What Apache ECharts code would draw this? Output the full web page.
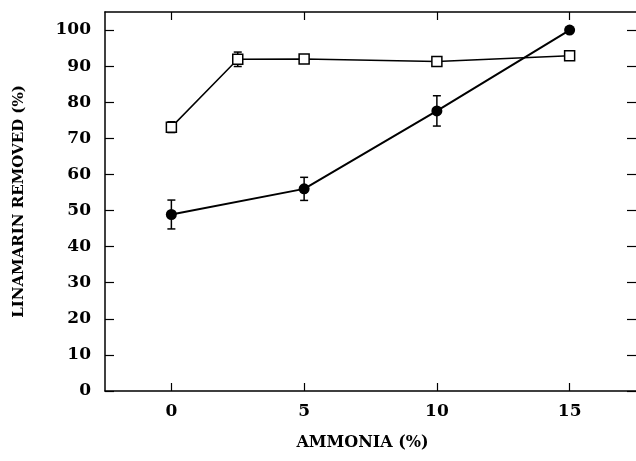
<!DOCTYPE html>
<html>
<head>
<meta charset="utf-8">
<script src="https://cdn.jsdelivr.net/npm/echarts@6/dist/echarts.min.js"></script>
<style>
html, body { margin: 0; padding: 0; background: #fff; }
#main { width: 636px; height: 461px; }
</style>
</head>
<body>
<div id="main"></div>
<script>
// ammonia (%) values
var xSquare = [0, 2.5, 5, 10, 15];
var ySquare = [73.1, 91.9, 92.0, 91.3, 92.9];
var errSquare = [1.5, 2.0, 0, 0, 0];

var xCircle = [0, 5, 10, 15];
var yCircle = [48.9, 56.0, 77.6, 100];
var errCircle = [4.0, 3.2, 4.2, 0];

var xTicks = [0, 5, 10, 15];
var yTicks = [0, 10, 20, 30, 40, 50, 60, 70, 80, 90, 100];

var fontFam = 'DejaVu Serif';

function pairs(xs, ys) {
	var out = [];
	for (var i = 0; i < xs.length; i++) {
		out.push([xs[i], ys[i]]);
	}
	return out;
}
function errData(xs, ys, es) {
	var out = [];
	for (var i = 0; i < xs.length; i++) {
		if (es[i] > 0) out.push([xs[i], ys[i] - es[i], ys[i] + es[i]]);
	}
	return out;
}
function renderErr(params, api) {
	var x = api.value(0);
	var lo = api.coord([x, api.value(1)]);
	var hi = api.coord([x, api.value(2)]);
	var w = 4;
	var st = { stroke: '#000', lineWidth: 1.5 };
	return {
		type: 'group',
		children: [
			{ type: 'line', shape: { x1: lo[0], y1: lo[1], x2: hi[0], y2: hi[1] }, style: st },
			{ type: 'line', shape: { x1: lo[0] - w, y1: lo[1], x2: lo[0] + w, y2: lo[1] }, style: st },
			{ type: 'line', shape: { x1: hi[0] - w, y1: hi[1], x2: hi[0] + w, y2: hi[1] }, style: st }
		]
	};
}

var chart = echarts.init(document.getElementById('main'));
var option = {
	animation: false,
	grid: { left: 105, top: 12, right: 0, bottom: 70 },
	xAxis: [{
		type: 'value',
		min: -2.5,
		max: 17.5,
		position: 'bottom',
		name: 'AMMONIA (%)',
		nameLocation: 'middle',
		nameGap: 44,
		nameTextStyle: { fontFamily: fontFam, fontWeight: 'bold', fontSize: 16, color: '#000', padding: [0, 16, 0, 0] },
		axisLine: { onZero: false, lineStyle: { color: '#000', width: 1.5 } },
		axisTick: { inside: true, length: 8, customValues: xTicks, lineStyle: { color: '#000', width: 1.2 } },
		axisLabel: { customValues: xTicks, margin: 12, fontFamily: fontFam, fontWeight: 'bold', fontSize: 17, color: '#000' },
		splitLine: { show: false }
	}, {
		type: 'value',
		min: -2.5,
		max: 17.5,
		position: 'top',
		axisLine: { onZero: false, lineStyle: { color: '#000', width: 1.5 } },
		axisTick: { inside: true, length: 8, customValues: xTicks, lineStyle: { color: '#000', width: 1.2 } },
		axisLabel: { show: false },
		splitLine: { show: false }
	}],
	yAxis: [{
		type: 'value',
		min: 0,
		max: 105,
		position: 'left',
		name: 'LINAMARIN REMOVED (%)',
		nameLocation: 'middle',
		nameGap: 78,
		nameTextStyle: { fontFamily: fontFam, fontWeight: 'bold', fontSize: 15, color: '#000' },
		axisLine: { show: true, onZero: false, lineStyle: { color: '#000', width: 1.5 } },
		axisTick: { show: true, inside: true, length: 9, customValues: yTicks, lineStyle: { color: '#000', width: 1.2 } },
		axisLabel: { customValues: yTicks, margin: 14, fontFamily: fontFam, fontWeight: 'bold', fontSize: 17, color: '#000' },
		splitLine: { show: false }
	}, {
		type: 'value',
		min: 0,
		max: 105,
		position: 'right',
		axisLine: { show: false, onZero: false },
		axisTick: { show: true, inside: true, length: 9, customValues: yTicks, lineStyle: { color: '#000', width: 1.2 } },
		axisLabel: { show: false },
		splitLine: { show: false }
	}],
	series: [{
		type: 'line',
		data: pairs(xSquare, ySquare),
		symbol: 'rect',
		symbolSize: 10,
		lineStyle: { color: '#000', width: 1.5 },
		itemStyle: { color: '#fff', borderColor: '#000', borderWidth: 1.5 },
		z: 3
	}, {
		type: 'line',
		data: pairs(xCircle, yCircle),
		symbol: 'circle',
		symbolSize: 11,
		lineStyle: { color: '#000', width: 2 },
		itemStyle: { color: '#000' },
		z: 3
	}, {
		type: 'custom',
		data: errData(xSquare, ySquare, errSquare),
		renderItem: renderErr,
		z: 2
	}, {
		type: 'custom',
		data: errData(xCircle, yCircle, errCircle),
		renderItem: renderErr,
		z: 2
	}]
};
chart.setOption(option);
</script>
</body>
</html>
